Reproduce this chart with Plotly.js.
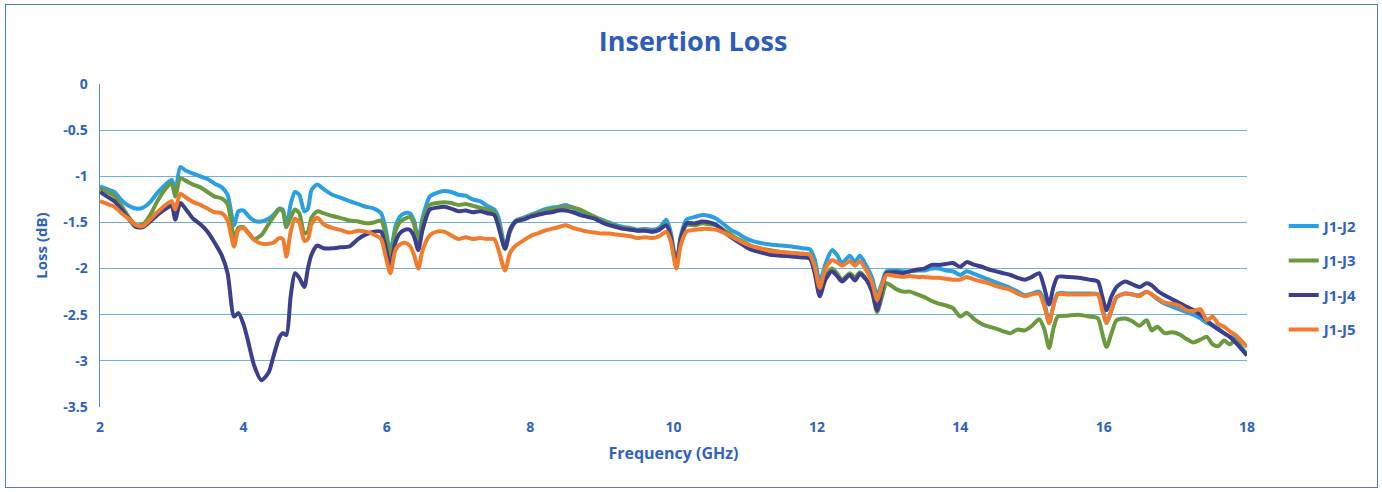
<!DOCTYPE html>
<html>
<head>
<meta charset="utf-8">
<script src="https://cdn.plot.ly/plotly-3.0.1.min.js"></script>
<style>
html,body{margin:0;padding:0;background:#fff;}
#wrap{position:relative;width:1382px;height:492px;}
#chart{width:1382px;height:492px;}
#frame{position:absolute;left:5px;top:4px;width:1371px;height:482px;border:1.5px solid #4a7fc8;pointer-events:none;}
</style>
</head>
<body>
<div id="wrap"><div id="chart"></div><div id="frame"></div></div>
<script>
const freq = [
2.0,2.1,2.2,2.3,2.4,2.5,2.6,2.7,2.8,2.9,
3.0,3.05,3.12,3.2,3.3,3.4,3.5,3.6,3.7,3.78,
3.87,3.93,4.0,4.07,4.15,4.25,4.35,4.42,4.5,4.55,
4.6,4.66,4.72,4.78,4.85,4.9,4.95,5.03,5.12,5.24,
5.35,5.48,5.6,5.71,5.82,5.92,5.98,6.05,6.12,6.18,
6.25,6.32,6.38,6.44,6.5,6.6,6.7,6.8,6.9,7.0,
7.1,7.2,7.3,7.4,7.5,7.56,7.65,7.72,7.8,7.9,
8.0,8.1,8.2,8.3,8.4,8.5,8.6,8.7,8.8,8.9,
9.0,9.1,9.2,9.3,9.4,9.5,9.6,9.7,9.8,9.9,
9.96,10.04,10.1,10.18,10.3,10.4,10.5,10.6,10.7,10.8,
10.9,11.0,11.1,11.2,11.35,11.5,11.65,11.8,11.9,11.97,
12.04,12.12,12.21,12.28,12.35,12.46,12.53,12.6,12.69,12.77,
12.84,12.91,12.97,13.1,13.2,13.3,13.4,13.5,13.6,13.7,
13.8,13.9,14.0,14.09,14.2,14.3,14.4,14.5,14.6,14.7,
14.8,14.9,15.0,15.1,15.17,15.24,15.3,15.36,15.5,15.65,
15.8,15.92,15.98,16.04,16.11,16.18,16.3,16.4,16.5,16.6,
16.67,16.75,16.85,16.95,17.05,17.15,17.25,17.35,17.44,17.52,
17.6,17.68,17.76,17.84,17.92,18.0];

const lossJ1J2 = [
-1.11,-1.14,-1.17,-1.26,-1.32,-1.35,-1.34,-1.28,-1.18,-1.10,
-1.04,-1.17,-0.90,-0.94,-0.97,-1.00,-1.03,-1.08,-1.12,-1.20,
-1.53,-1.38,-1.37,-1.43,-1.48,-1.49,-1.46,-1.42,-1.35,-1.36,
-1.55,-1.30,-1.17,-1.20,-1.38,-1.35,-1.15,-1.09,-1.14,-1.20,
-1.23,-1.27,-1.30,-1.33,-1.35,-1.40,-1.55,-1.82,-1.55,-1.44,
-1.40,-1.40,-1.48,-1.69,-1.45,-1.22,-1.18,-1.16,-1.17,-1.20,
-1.21,-1.25,-1.27,-1.32,-1.36,-1.45,-1.76,-1.58,-1.48,-1.45,
-1.42,-1.39,-1.36,-1.34,-1.33,-1.31,-1.34,-1.38,-1.41,-1.44,
-1.47,-1.50,-1.53,-1.55,-1.56,-1.58,-1.57,-1.58,-1.56,-1.47,
-1.60,-1.94,-1.65,-1.47,-1.44,-1.42,-1.43,-1.46,-1.52,-1.58,
-1.62,-1.67,-1.70,-1.72,-1.74,-1.75,-1.76,-1.78,-1.79,-1.90,
-2.14,-1.95,-1.80,-1.85,-1.94,-1.86,-1.93,-1.86,-1.97,-2.10,
-2.29,-2.15,-2.03,-2.02,-2.03,-2.03,-2.02,-2.02,-2.00,-2.00,
-2.02,-2.03,-2.07,-2.03,-2.06,-2.09,-2.12,-2.15,-2.18,-2.21,
-2.25,-2.29,-2.27,-2.25,-2.35,-2.59,-2.40,-2.27,-2.27,-2.27,
-2.27,-2.28,-2.40,-2.59,-2.45,-2.31,-2.27,-2.28,-2.29,-2.25,
-2.28,-2.33,-2.38,-2.41,-2.44,-2.47,-2.50,-2.54,-2.59,-2.61,
-2.65,-2.70,-2.74,-2.76,-2.85,-2.94];

const lossJ1J3 = [
-1.13,-1.17,-1.21,-1.32,-1.44,-1.53,-1.52,-1.42,-1.27,-1.15,
-1.08,-1.22,-1.02,-1.05,-1.09,-1.12,-1.17,-1.22,-1.24,-1.30,
-1.66,-1.56,-1.55,-1.61,-1.68,-1.64,-1.52,-1.44,-1.36,-1.38,
-1.55,-1.45,-1.36,-1.40,-1.62,-1.60,-1.45,-1.38,-1.40,-1.43,
-1.45,-1.48,-1.49,-1.51,-1.50,-1.48,-1.62,-1.86,-1.60,-1.50,
-1.46,-1.44,-1.52,-1.72,-1.50,-1.31,-1.29,-1.28,-1.29,-1.31,
-1.30,-1.32,-1.34,-1.36,-1.39,-1.50,-1.79,-1.60,-1.49,-1.46,
-1.43,-1.40,-1.38,-1.36,-1.34,-1.33,-1.34,-1.36,-1.40,-1.44,
-1.48,-1.51,-1.54,-1.56,-1.57,-1.59,-1.58,-1.60,-1.58,-1.52,
-1.65,-1.96,-1.68,-1.53,-1.53,-1.51,-1.52,-1.53,-1.58,-1.63,
-1.68,-1.72,-1.76,-1.78,-1.80,-1.82,-1.83,-1.84,-1.85,-2.00,
-2.28,-2.08,-2.00,-2.05,-2.12,-2.05,-2.10,-2.04,-2.12,-2.25,
-2.47,-2.30,-2.16,-2.22,-2.25,-2.25,-2.28,-2.31,-2.35,-2.38,
-2.40,-2.43,-2.52,-2.48,-2.55,-2.60,-2.63,-2.65,-2.68,-2.70,
-2.66,-2.67,-2.62,-2.55,-2.65,-2.86,-2.65,-2.52,-2.51,-2.50,
-2.52,-2.54,-2.70,-2.85,-2.70,-2.56,-2.54,-2.57,-2.62,-2.56,
-2.67,-2.63,-2.70,-2.69,-2.71,-2.76,-2.80,-2.77,-2.74,-2.82,
-2.84,-2.78,-2.82,-2.78,-2.86,-2.93];

const lossJ1J4 = [
-1.17,-1.22,-1.27,-1.36,-1.46,-1.55,-1.55,-1.49,-1.42,-1.36,
-1.32,-1.47,-1.29,-1.36,-1.46,-1.52,-1.60,-1.72,-1.86,-2.05,
-2.52,-2.48,-2.60,-2.80,-3.05,-3.21,-3.13,-2.95,-2.75,-2.70,
-2.72,-2.30,-2.05,-2.10,-2.20,-2.00,-1.85,-1.75,-1.78,-1.78,
-1.77,-1.76,-1.68,-1.63,-1.60,-1.60,-1.75,-1.97,-1.72,-1.62,
-1.58,-1.58,-1.65,-1.80,-1.58,-1.36,-1.34,-1.33,-1.35,-1.38,
-1.37,-1.39,-1.38,-1.40,-1.42,-1.55,-1.78,-1.58,-1.49,-1.47,
-1.44,-1.42,-1.40,-1.39,-1.37,-1.37,-1.39,-1.42,-1.44,-1.46,
-1.50,-1.53,-1.55,-1.57,-1.58,-1.59,-1.59,-1.60,-1.58,-1.53,
-1.65,-1.97,-1.68,-1.51,-1.51,-1.49,-1.50,-1.53,-1.60,-1.66,
-1.71,-1.76,-1.80,-1.82,-1.85,-1.86,-1.87,-1.88,-1.89,-2.05,
-2.30,-2.12,-2.03,-2.08,-2.14,-2.07,-2.13,-2.06,-2.12,-2.25,
-2.45,-2.22,-2.05,-2.04,-2.05,-2.03,-2.01,-2.00,-1.96,-1.96,
-1.95,-1.94,-1.98,-1.93,-1.96,-1.98,-2.01,-2.03,-2.05,-2.07,
-2.10,-2.12,-2.09,-2.05,-2.20,-2.39,-2.20,-2.09,-2.09,-2.10,
-2.12,-2.14,-2.30,-2.45,-2.30,-2.20,-2.14,-2.17,-2.20,-2.16,
-2.18,-2.24,-2.29,-2.33,-2.37,-2.41,-2.45,-2.50,-2.56,-2.62,
-2.66,-2.70,-2.74,-2.80,-2.87,-2.94];

const lossJ1J5 = [
-1.27,-1.30,-1.33,-1.40,-1.46,-1.53,-1.54,-1.47,-1.39,-1.32,
-1.27,-1.36,-1.19,-1.23,-1.28,-1.31,-1.35,-1.39,-1.40,-1.48,
-1.76,-1.58,-1.56,-1.62,-1.69,-1.73,-1.73,-1.72,-1.67,-1.68,
-1.87,-1.60,-1.46,-1.50,-1.70,-1.68,-1.52,-1.45,-1.52,-1.56,
-1.58,-1.61,-1.59,-1.60,-1.63,-1.68,-1.85,-2.05,-1.80,-1.74,
-1.72,-1.75,-1.85,-2.00,-1.80,-1.64,-1.60,-1.60,-1.64,-1.68,
-1.66,-1.68,-1.67,-1.68,-1.68,-1.80,-2.02,-1.83,-1.75,-1.70,
-1.65,-1.62,-1.59,-1.57,-1.55,-1.53,-1.56,-1.58,-1.60,-1.61,
-1.62,-1.62,-1.63,-1.64,-1.65,-1.67,-1.66,-1.67,-1.65,-1.60,
-1.70,-2.00,-1.75,-1.60,-1.58,-1.57,-1.57,-1.58,-1.61,-1.65,
-1.69,-1.73,-1.76,-1.78,-1.81,-1.82,-1.83,-1.84,-1.85,-1.98,
-2.21,-2.00,-1.91,-1.93,-1.97,-1.92,-1.97,-1.92,-2.02,-2.15,
-2.34,-2.18,-2.07,-2.08,-2.09,-2.08,-2.09,-2.09,-2.10,-2.10,
-2.11,-2.12,-2.12,-2.09,-2.12,-2.14,-2.16,-2.19,-2.21,-2.23,
-2.27,-2.30,-2.28,-2.27,-2.40,-2.59,-2.40,-2.28,-2.28,-2.28,
-2.28,-2.28,-2.45,-2.59,-2.45,-2.31,-2.27,-2.28,-2.30,-2.25,
-2.28,-2.32,-2.37,-2.38,-2.40,-2.45,-2.46,-2.44,-2.56,-2.52,
-2.60,-2.63,-2.68,-2.72,-2.78,-2.85];

const seriesNames = ["J1-J2","J1-J3","J1-J4","J1-J5"];
const seriesColors = ["#2a9fe2","#6b9a3e","#3b3f8e","#f27b2c"];
const yTickVals = [0,-0.5,-1,-1.5,-2,-2.5,-3,-3.5];
const yTickText = ["0","-0.5","-1","-1.5","-2","-2.5","-3","-3.5"];
const xTickVals = [2,4,6,8,10,12,14,16,18];

const txtColor = "#2f62c4";
const fontFam = "'Open Sans', 'Noto Sans', sans-serif";
const allLoss = [lossJ1J2, lossJ1J3, lossJ1J4, lossJ1J5];

const traces = allLoss.map((ys, i) => ({
  x: freq, y: ys, type: "scatter", mode: "lines",
  name: seriesNames[i], legendgroup: "g" + i,
  line: {color: seriesColors[i], width: 4, shape: "spline", smoothing: 0.7}
}));

const layout = {
  width: 1382, height: 492,
  margin: {l: 100, r: 135, t: 84, b: 85},
  paper_bgcolor: "#fff", plot_bgcolor: "#fff",
  font: {family: fontFam, color: txtColor, size: 13},
  title: {text: "<b>Insertion Loss</b>", x: 0.5015, xref: "container", xanchor: "center", y: 0.915, yanchor: "middle",
          font: {family: fontFam, size: 27, color: "#2c5cbc"}},
  xaxis: {
    range: [2, 18], tickvals: xTickVals, ticktext: xTickVals.map(String),
    showgrid: false, zeroline: false, showline: false, ticks: "",
    ticklabelstandoff: 10,
    tickfont: {family: fontFam, size: 14, color: txtColor, weight: "bold"},
    title: {text: "<b>Frequency (GHz)</b>", font: {family: fontFam, size: 16, color: txtColor}, standoff: 12}
  },
  yaxis: {
    range: [-3.5, 0], tickvals: yTickVals, ticktext: yTickText,
    showgrid: true, gridcolor: "#6cb2e8", gridwidth: 1,
    zeroline: false, showline: true, linecolor: "#4a90d9", linewidth: 1.5, ticks: "",
    ticklabelstandoff: 8,
    tickfont: {family: fontFam, size: 14, color: txtColor, weight: "bold"},
    title: {text: "<b>Loss (dB)</b>", font: {family: fontFam, size: 15, color: txtColor}, standoff: 12}
  },
  showlegend: true,
  legend: {x: 1.032, xanchor: "left", y: 0.40, yanchor: "middle",
           traceorder: "grouped", tracegroupgap: 12,
           font: {family: fontFam, size: 15, color: txtColor, weight: "bold"},
           bgcolor: "rgba(0,0,0,0)"}
};

Plotly.newPlot("chart", traces, layout, {displayModeBar: false, staticPlot: true});
</script>
</body>
</html>
